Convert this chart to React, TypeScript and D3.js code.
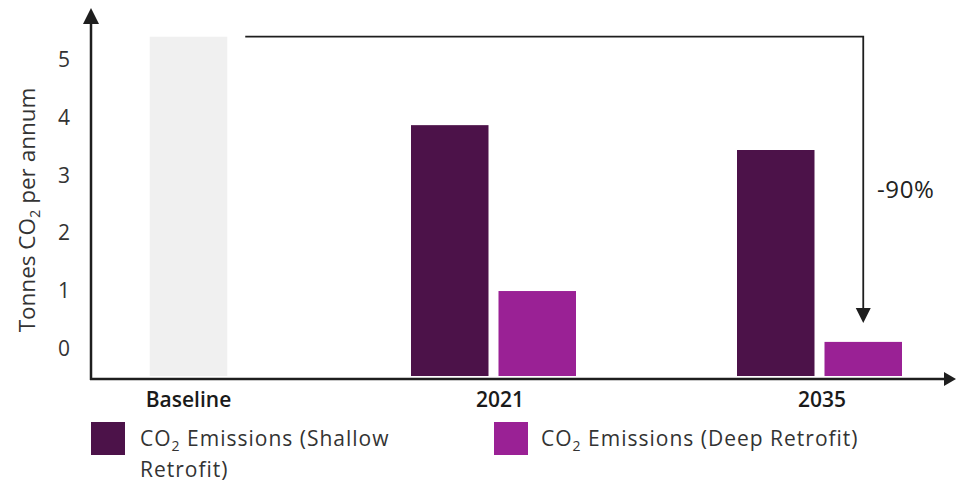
import React from "react";
import * as d3 from "d3";

const categories = ["Baseline", "2021", "2035"];
const seriesNames = ["Shallow", "Deep"];
const baselineValue = [5.87];
const shallowValues = [null, 4.34, 3.91];
const deepValues = [null, 1.47, 0.59];
const yTicks = [0, 1, 2, 3, 4, 5];
const reductionLabel = "-90%";

const W = 956;
const H = 484;
const FONT = "'Open Sans', 'Noto Sans', sans-serif";
const C_SHALLOW = "#4c1249";
const C_DEEP = "#9a2195";
const C_BASE = "#f0f0f0";
const AX = "#1e1e1e";

export default function App() {
  const axisX = 91;
  const axisY = 379;
  const x0 = d3.scaleBand<string>().domain(categories).range([4.5, 982.5]).paddingInner(0).paddingOuter(0);
  const x1 = d3.scaleBand<string>().domain(seriesNames).range([0, 165]).paddingInner(10 / 87.5).paddingOuter(0);
  const y = d3.scaleLinear().domain([0, 6]).range([376, 376 - 6 * 57.8]);
  const labelOffset = -28;

  const center = (c: string) => (x0(c) as number) + x0.bandwidth() / 2;
  const groupStart = (c: string) => center(c) - 82.5;
  const bw = x1.bandwidth();

  const baseShift = 21;
  const baseX = center("Baseline") - bw / 2 + baseShift;
  const deepLastX = groupStart("2035") + (x1("Deep") as number);
  const arrowX = deepLastX + bw / 2;
  const arrowTopY = y(baselineValue[0]);
  const arrowTipY = y(deepValues[2] as number) - 19;

  const bars: { x: number; y: number; h: number; fill: string }[] = [];
  bars.push({ x: baseX, y: y(baselineValue[0]), h: y(0) - y(baselineValue[0]), fill: C_BASE });
  categories.forEach((c, i) => {
    const s = shallowValues[i];
    const d = deepValues[i];
    if (s != null) bars.push({ x: groupStart(c) + (x1("Shallow") as number), y: y(s), h: y(0) - y(s), fill: C_SHALLOW });
    if (d != null) bars.push({ x: groupStart(c) + (x1("Deep") as number), y: y(d), h: y(0) - y(d), fill: C_DEEP });
  });

  const labelShift: Record<string, number> = { Baseline: baseShift, "2021": 6.5, "2035": 2.5 };

  return (
    <svg width={W} height={H} style={{ position: "absolute", left: 0, top: 0, background: "#fff" }} fontFamily={FONT}>
      {bars.map((b, i) => (
        <rect key={i} x={b.x} y={b.y} width={bw} height={b.h} fill={b.fill} />
      ))}

      {/* axes */}
      <line x1={axisX} y1={axisY + 1} x2={axisX} y2={22} stroke={AX} strokeWidth={2.5} />
      <path d={`M${axisX - 8},${24} L${axisX},${8} L${axisX + 8},${24} Z`} fill={AX} />
      <line x1={axisX - 1} y1={axisY} x2={946} y2={axisY} stroke={AX} strokeWidth={2.5} />
      <path d={`M${944},${axisY - 7} L${956},${axisY} L${944},${axisY + 7} Z`} fill={AX} />

      {/* y tick labels */}
      {yTicks.map((t) => (
        <text key={t} x={64} y={y(t) + labelOffset} textAnchor="middle" dominantBaseline="central" fontSize={21} fill="#333">
          {t}
        </text>
      ))}

      {/* y title */}
      <text transform={`translate(35,${210}) rotate(-90)`} textAnchor="middle" fontSize={22.5} fill="#333">
        Tonnes CO<tspan fontSize={14.5} dy={5}>2</tspan>
        <tspan dy={-5}> per annum</tspan>
      </text>

      {/* category labels */}
      {categories.map((c) => (
        <text key={c} x={center(c) + labelShift[c]} y={407} textAnchor="middle" fontSize={21} fontWeight={600} fill="#1a1a1a">
          {c}
        </text>
      ))}

      {/* reduction arrow */}
      <path d={`M${baseX + bw + 18},${arrowTopY} H${arrowX} V${arrowTipY - 12}`} fill="none" stroke={AX} strokeWidth={1.8} />
      <path d={`M${arrowX - 7.5},${arrowTipY - 15} L${arrowX},${arrowTipY} L${arrowX + 7.5},${arrowTipY - 15} Z`} fill={AX} />
      <text x={877} y={188} dominantBaseline="central" fontSize={24} letterSpacing={0.6} fill="#222">
        {reductionLabel}
      </text>

      {/* legend */}
      <rect x={91} y={422} width={34} height={33} fill={C_SHALLOW} />
      <text x={140} y={446} fontSize={21} letterSpacing={1} fill="#333">
        CO<tspan fontSize={14} dy={5}>2</tspan>
        <tspan dy={-5}> Emissions (Shallow</tspan>
      </text>
      <text x={140} y={477} fontSize={21} letterSpacing={1} fill="#333">Retrofit)</text>
      <rect x={494} y={422} width={34} height={33} fill={C_DEEP} />
      <text x={541} y={446} fontSize={21} letterSpacing={1} fill="#333">
        CO<tspan fontSize={14} dy={5}>2</tspan>
        <tspan dy={-5}> Emissions (Deep Retrofit)</tspan>
      </text>
    </svg>
  );
}
